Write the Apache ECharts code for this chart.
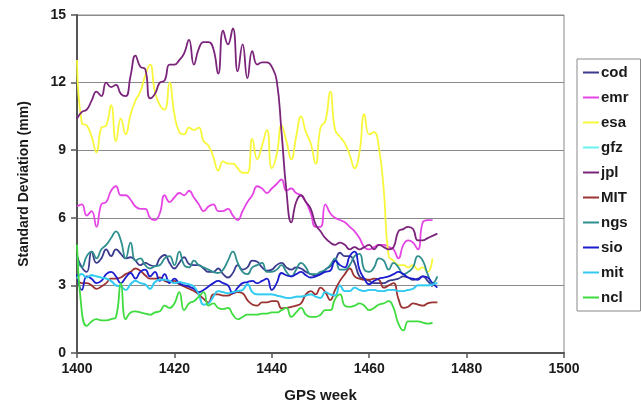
<!DOCTYPE html>
<html>
<head>
<meta charset="utf-8">
<script src="https://cdn.jsdelivr.net/npm/echarts@6/dist/echarts.min.js"></script>
<style>
html,body{margin:0;padding:0;background:#fff;}
#chart{width:641px;height:408px;}
</style>
</head>
<body>
<div id="chart"></div>
<script>
// GPS weeks (x values)
var weeks = [1400,1401,1402,1403,1404,1405,1406,1407,1408,1409,
             1410,1411,1412,1413,1414,1415,1416,1417,1418,1419,
             1420,1421,1422,1423,1424,1425,1426,1427,1428,1429,
             1430,1431,1432,1433,1434,1435,1436,1437,1438,1439,
             1440,1441,1442,1443,1444,1445,1446,1447,1448,1449,
             1450,1451,1452,1453,1454,1455,1456,1457,1458,1459,
             1460,1461,1462,1463,1464,1465,1466,1467,1468,1469,
             1470,1471,1472,1473,1474];

var xTicks = [1400, 1420, 1440, 1460, 1480, 1500];
var yTicks = [0, 3, 6, 9, 12, 15];

var names = ['cod','emr','esa','gfz','jpl','MIT','ngs','sio','mit','ncl'];

var cod = [4.3,3.8,3.6,4.5,4.0,4.2,4.6,4.3,4.6,4.4,
           4.2,4.25,4.1,3.9,4.0,3.9,3.85,4.2,4.35,4.0,
           3.75,4.0,4.25,3.95,3.9,3.9,3.75,3.6,3.6,3.75,
           3.5,3.35,3.55,3.9,3.7,3.8,4.1,4.05,3.8,3.65,
           3.7,3.9,4.0,3.8,3.7,3.8,3.75,3.6,3.5,3.45,
           3.5,3.7,3.85,4.1,4.45,4.3,4.3,4.0,3.4,3.3,
           3.2,3.1,3.1,3.1,3.2,3.25,3.3,3.4,3.35,3.25,
           3.3,3.4,3.2,2.95];
var emr = [6.5,6.6,6.1,6.3,5.6,6.6,6.7,7.2,7.4,7.0,
           7.0,6.8,6.5,6.4,6.4,6.0,5.9,6.2,7.0,6.7,
           6.9,7.1,7.0,7.2,6.9,6.6,6.3,6.5,6.6,6.3,
           6.3,6.4,6.1,5.9,6.3,6.7,7.0,7.4,7.3,7.1,
           7.3,7.5,7.7,7.2,7.3,7.1,7.0,6.7,6.2,5.6,
           5.6,6.6,6.2,6.0,5.9,5.8,5.6,5.4,5.1,4.7,
           4.6,4.7,4.8,4.8,4.7,4.6,4.2,4.8,5.0,4.9,
           4.6,5.8,5.9,5.9];
var esa = [13.0,10.2,10.1,9.6,8.9,10.0,10.1,11.0,9.4,10.4,
           9.7,10.6,11.2,11.6,12.3,12.8,11.6,11.0,10.8,12.0,
           10.6,9.8,9.7,10.0,9.9,10.0,9.4,9.2,8.7,8.1,
           8.5,8.4,8.4,8.2,8.0,8.0,9.5,8.6,9.2,9.9,
           8.2,8.8,10.1,9.4,8.6,9.6,10.5,9.8,9.3,8.4,
           10.0,10.3,11.6,9.9,9.6,9.3,8.8,8.2,8.9,10.6,
           9.7,9.8,9.1,7.2,4.3,4.1,3.9,3.9,3.8,3.9,
           3.7,3.8,3.6,4.2];
var gfz = [3.3,3.5,3.35,3.45,3.4,3.35,3.3,3.2,3.0,2.95,
           2.8,3.05,3.2,3.1,3.05,2.85,3.15,3.25,3.25,3.2,
           3.1,3.15,3.1,3.05,2.95,2.6,2.15,2.2,2.5,2.75,
           2.7,2.65,2.7,2.75,2.8,3.05,2.7,2.6,2.6,2.6,
           2.6,2.55,2.5,2.45,2.45,2.5,2.5,2.55,2.6,2.5,
           2.45,2.7,2.6,2.55,3.0,2.75,2.75,2.9,2.8,2.75,
           2.8,2.8,2.75,2.75,2.8,2.8,2.75,2.75,2.8,2.85,
           3.0,3.0,3.0,3.05,3.1];
var jpl = [10.4,10.7,10.8,11.2,11.6,11.4,12.0,11.8,11.9,11.5,
           11.4,12.3,13.2,12.7,12.6,11.3,11.5,12.0,12.1,12.8,
           12.8,13.0,13.3,13.9,12.8,13.5,13.8,13.8,13.5,12.4,
           14.3,13.7,14.4,12.5,13.7,12.2,13.4,12.8,12.9,12.9,
           12.7,12.1,9.8,7.2,5.8,6.7,7.0,6.7,6.4,5.7,
           5.4,5.1,4.9,4.8,4.9,4.8,4.6,4.7,4.6,4.7,
           4.8,4.6,4.8,4.7,4.6,4.7,5.4,5.5,5.6,5.5,
           5.0,5.0,5.1,5.2,5.3];
var MIT = [3.3,3.1,3.1,3.0,2.85,2.95,3.1,3.3,3.3,3.35,
           3.5,3.6,3.75,3.65,3.45,3.3,3.3,3.35,3.2,3.15,
           3.2,3.05,2.95,2.85,2.75,2.6,2.4,2.25,2.6,2.6,
           2.55,2.55,2.65,2.7,2.65,2.35,2.15,2.1,2.25,2.25,
           2.3,2.3,1.98,2.0,2.05,2.1,2.2,2.6,2.75,2.6,
           2.9,2.7,2.35,2.8,3.2,3.5,3.75,3.4,3.3,3.25,
           3.25,3.3,3.25,2.9,3.0,3.1,2.4,2.0,2.05,2.2,
           2.15,2.1,2.2,2.25,2.25];
var ngs = [4.3,3.8,4.3,4.5,4.2,4.6,4.8,5.1,5.4,5.0,
           4.2,4.9,4.1,4.2,3.9,3.75,3.85,3.9,4.2,4.3,
           3.9,4.5,3.9,3.8,4.1,3.9,3.8,3.7,3.6,3.55,
           3.7,4.1,4.5,4.0,3.6,3.5,3.8,3.9,4.0,3.6,
           3.6,3.7,3.9,3.6,3.4,3.7,4.0,3.8,3.5,3.5,
           3.6,3.7,3.9,4.2,3.7,3.7,3.9,4.3,4.4,3.7,
           3.6,3.8,4.2,4.1,3.7,4.0,3.8,3.5,3.6,3.8,
           4.3,4.1,3.5,3.1,3.4];
var sio = [3.5,2.8,3.4,3.3,3.1,3.2,3.5,3.6,3.4,3.1,
           3.35,3.55,3.3,3.6,3.7,3.4,3.6,3.2,3.5,3.1,
           3.3,3.1,3.0,2.95,2.85,2.7,2.8,2.95,3.1,3.2,
           3.1,3.0,2.65,2.9,3.1,3.15,3.2,3.1,3.2,3.3,
           2.8,3.1,3.55,3.45,3.4,3.5,3.6,3.45,3.35,3.4,
           3.5,3.6,3.65,4.1,3.9,3.8,4.3,4.5,3.7,3.3,
           3.05,3.2,3.3,3.35,3.4,3.5,3.6,3.5,3.35,3.3,
           3.25,3.4,3.35,3.1,2.9];
var mit = [3.3,3.5,3.35,3.45,3.4,3.35,3.3,3.2,3.0,2.95,
           2.8,3.05,3.2,3.1,3.05,2.85,3.15,3.25,3.25,3.2,
           3.1,3.15,3.1,3.05,2.95,2.6,2.15,2.2,2.5,2.75,
           2.7,2.65,2.7,2.75,2.8,3.05,2.7,2.6,2.6,2.6,
           2.6,2.55,2.5,2.45,2.45,2.5,2.5,2.55,2.6,2.5,
           2.45,2.7,2.6,2.55,3.0,2.75,2.75,2.9,2.8,2.75,
           2.8,2.8,2.75,2.75,2.8,2.8,2.75,2.75,2.8,2.85,
           3.0,3.0,3.0,3.05,3.1];
var ncl = [4.8,1.8,1.2,1.4,1.5,1.45,1.45,1.5,1.6,3.1,
           1.5,1.8,1.85,1.8,1.75,1.7,1.8,1.85,2.1,2.0,
           2.2,2.7,1.9,2.2,2.3,2.5,2.7,2.1,2.2,2.0,
           1.95,2.0,1.7,1.5,1.6,1.7,1.7,1.7,1.75,1.75,
           1.8,1.8,1.9,2.0,1.6,1.8,2.0,1.7,1.6,1.6,
           1.7,1.9,1.9,2.4,2.6,2.1,2.05,2.1,2.2,2.1,
           1.9,2.0,2.15,2.2,2.3,2.0,1.3,1.0,1.4,1.4,
           1.4,1.35,1.3,1.35];

var colors = ['#3b3b8f','#e645e6','#f7f73c','#66f2f2','#7b247b',
              '#9b3333','#2f8f8f','#1d1dcf','#35c8f2','#3fdc3f'];
var values = [cod, emr, esa, gfz, jpl, MIT, ngs, sio, mit, ncl];

function pairs(vals){
    var out = [];
    for (var i = 0; i < vals.length; i++) {
        out.push([weeks[i], vals[i]]);
    }
    return out;
}

var series = [];
for (var s = 0; s < names.length; s++) {
    series.push({
        name: names[s],
        type: 'line',
        data: pairs(values[s]),
        symbol: 'none',
        smooth: 0.5,
        lineStyle: {width: 1.8, color: colors[s]},
        itemStyle: {color: colors[s]}
    });
}

var chart = echarts.init(document.getElementById('chart'));
var fontName = 'Liberation Sans, Arial, sans-serif';
var boldFont = {fontFamily: fontName, fontWeight: 'bold', fontSize: 14, color: '#1a1a1a'};

chart.setOption({
    animation: false,
    color: colors,
    grid: {left: 77, right: 77, top: 15, bottom: 51, show: true, borderColor: '#8a8a8a', borderWidth: 1},
    legend: {
        orient: 'vertical',
        left: 577,
        top: 59,
        padding: [6, 12, 6, 6],
        itemGap: 10,
        itemWidth: 16,
        itemHeight: 2,
        icon: 'rect',
        borderColor: '#8a8a8a',
        borderWidth: 1,
        backgroundColor: '#fff',
        data: names,
        textStyle: {fontFamily: fontName, fontWeight: 'bold', fontSize: 15, color: '#1a1a1a', padding: [0, 0, 0, -3]}
    },
    xAxis: {
        type: 'value',
        min: xTicks[0],
        max: xTicks[xTicks.length - 1],
        interval: 20,
        name: 'GPS week',
        nameLocation: 'middle',
        nameGap: 35,
        nameTextStyle: {fontFamily: fontName, fontWeight: 'bold', fontSize: 15, color: '#1a1a1a'},
        axisLine: {lineStyle: {color: '#555', width: 2}},
        axisTick: {show: true, length: 5, lineStyle: {color: '#555', width: 1.5}},
        axisLabel: Object.assign({margin: 9, formatter: function (v) { return String(v); }}, boldFont),
        splitLine: {show: false}
    },
    yAxis: {
        type: 'value',
        min: yTicks[0],
        max: yTicks[yTicks.length - 1],
        interval: 3,
        name: 'Standard Deviation (mm)',
        nameLocation: 'middle',
        nameGap: 46,
        nameRotate: 90,
        nameTextStyle: {fontFamily: fontName, fontWeight: 'bold', fontSize: 14, color: '#1a1a1a'},
        axisLine: {show: true, lineStyle: {color: '#555', width: 2}},
        axisTick: {show: true, length: 6, lineStyle: {color: '#555', width: 1.5}},
        axisLabel: Object.assign({margin: 11}, boldFont),
        splitLine: {show: true, lineStyle: {color: '#8a8a8a', width: 1.2}}
    },
    series: series
});
</script>
</body>
</html>
